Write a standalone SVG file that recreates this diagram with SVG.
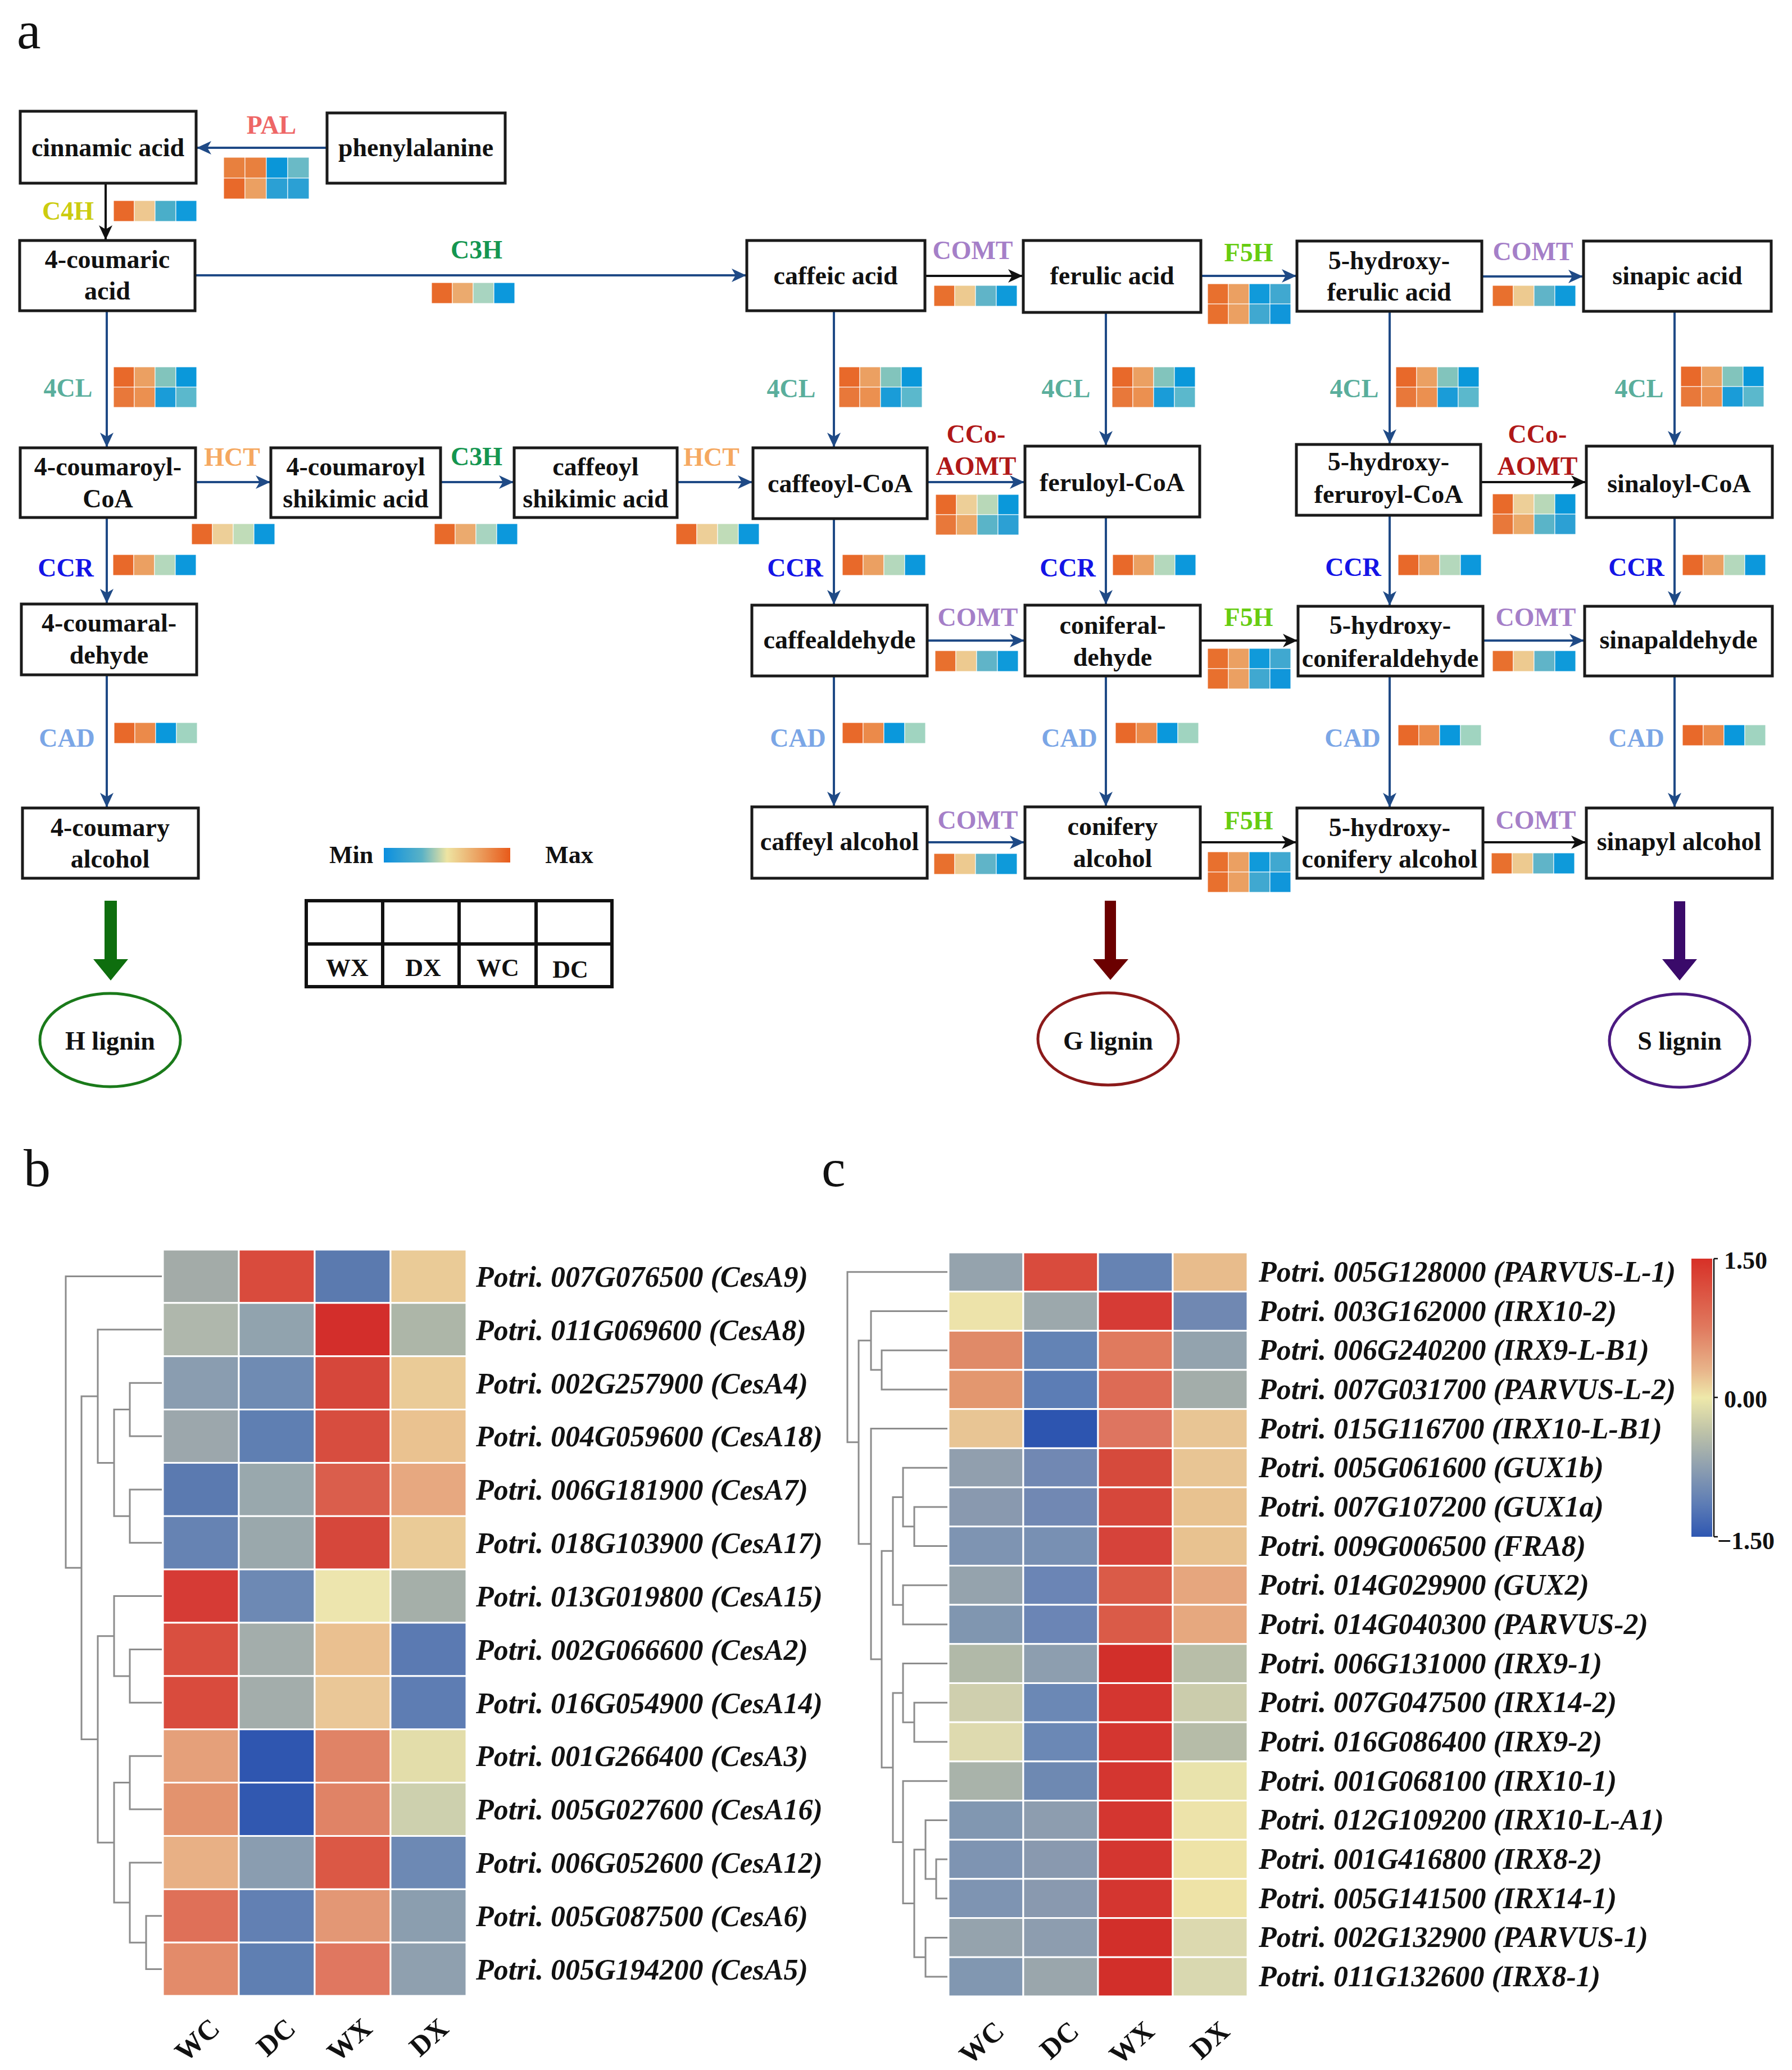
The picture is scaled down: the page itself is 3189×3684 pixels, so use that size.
<svg xmlns="http://www.w3.org/2000/svg" xmlns:xlink="http://www.w3.org/1999/xlink" width="3189" height="3684" viewBox="0 0 3189 3684">
<style>
.box{fill:#fff;stroke:#1a1a1a;stroke-width:5}
.nt{font-family:"Liberation Serif","Times New Roman",serif;font-weight:bold;font-size:46px;text-anchor:middle;fill:#111}
.en{font-family:"Liberation Serif","Times New Roman",serif;font-weight:bold;font-size:46px;text-anchor:middle}
.ln{stroke:#1F4A86;stroke-width:4;fill:none}
.lk{stroke:#111;stroke-width:4;fill:none}
.dg{stroke:#8C8C8C;stroke-width:3;fill:none}
.gl{font-family:"Liberation Serif","Times New Roman",serif;font-weight:bold;font-style:italic;font-size:52px;fill:#111}
.cl{font-family:"Liberation Serif","Times New Roman",serif;font-weight:bold;font-size:50px;fill:#111;text-anchor:end}
.pl{font-family:"Liberation Serif","Times New Roman",serif;font-size:96px;fill:#111}
.hc rect{stroke:#fff;stroke-width:1}
.hm rect{stroke:#fff;stroke-width:3}
.lg{font-family:"Liberation Serif","Times New Roman",serif;font-weight:bold;font-size:44px;fill:#111;text-anchor:middle}
.comt{fill:#A57FC8}.f5h{fill:#66CC11}.c4l{fill:#5AAE9C}.ccr{fill:#1414E6}.cad{fill:#7BA6E6}.hct{fill:#F5A860}.c3h{fill:#149650}.cco{fill:#B01818}
</style>
<defs>
<marker id="ab" markerUnits="userSpaceOnUse" markerWidth="26" markerHeight="24" refX="26" refY="12" orient="auto"><path d="M0,0 L26,12 L0,24 L7,12 z" fill="#1F4A86"/></marker>
<marker id="ak" markerUnits="userSpaceOnUse" markerWidth="26" markerHeight="24" refX="26" refY="12" orient="auto"><path d="M0,0 L26,12 L0,24 L7,12 z" fill="#111"/></marker>
<linearGradient id="mm" x1="0" y1="0" x2="1" y2="0"><stop offset="0" stop-color="#0A8FE0"/><stop offset="0.3" stop-color="#5AB2C6"/><stop offset="0.5" stop-color="#EEE4A2"/><stop offset="0.75" stop-color="#EBA060"/><stop offset="1" stop-color="#E85A1A"/></linearGradient>
<linearGradient id="cb" x1="0" y1="0" x2="0" y2="1"><stop offset="0" stop-color="#D73027"/><stop offset="0.25" stop-color="#E07A5F"/><stop offset="0.4" stop-color="#E8B48A"/><stop offset="0.5" stop-color="#EEE8AA"/><stop offset="0.62" stop-color="#BFC3A8"/><stop offset="0.75" stop-color="#8E9FB0"/><stop offset="0.88" stop-color="#5E7DB5"/><stop offset="1" stop-color="#2F57B2"/></linearGradient>
<g id="hmC4H" class="hc"><rect x="0" y="0" width="37" height="37" fill="#E8692A"/><rect x="37" y="0" width="37" height="37" fill="#EEC890"/><rect x="74" y="0" width="37" height="37" fill="#4AAEC9"/><rect x="111" y="0" width="37" height="37" fill="#109BDB"/></g>
<g id="hmC3H" class="hc"><rect x="0" y="0" width="37" height="37" fill="#E86A2A"/><rect x="37" y="0" width="37" height="37" fill="#EBAA6E"/><rect x="74" y="0" width="37" height="37" fill="#A8D4C0"/><rect x="111" y="0" width="37" height="37" fill="#0C98DC"/></g>
<g id="hmCOMT" class="hc"><rect x="0" y="0" width="37" height="37" fill="#E8702E"/><rect x="37" y="0" width="37" height="37" fill="#EDCA90"/><rect x="74" y="0" width="37" height="37" fill="#60B4C8"/><rect x="111" y="0" width="37" height="37" fill="#0E9ADA"/></g>
<g id="hmHCT" class="hc"><rect x="0" y="0" width="37" height="37" fill="#E8692A"/><rect x="37" y="0" width="37" height="37" fill="#EDCF98"/><rect x="74" y="0" width="37" height="37" fill="#C0DCB8"/><rect x="111" y="0" width="37" height="37" fill="#0C98DC"/></g>
<g id="hmCCR" class="hc"><rect x="0" y="0" width="37" height="37" fill="#E8692A"/><rect x="37" y="0" width="37" height="37" fill="#EBA062"/><rect x="74" y="0" width="37" height="37" fill="#B4D8BC"/><rect x="111" y="0" width="37" height="37" fill="#0C98DC"/></g>
<g id="hmCAD" class="hc"><rect x="0" y="0" width="37" height="37" fill="#E8692A"/><rect x="37" y="0" width="37" height="37" fill="#EB8A4A"/><rect x="74" y="0" width="37" height="37" fill="#0A98DC"/><rect x="111" y="0" width="37" height="37" fill="#A0D4C0"/></g>
<g id="hmPAL" class="hc"><rect x="0" y="0" width="38" height="37" fill="#E8803E"/><rect x="38" y="0" width="38" height="37" fill="#E8803E"/><rect x="76" y="0" width="38" height="37" fill="#0A96D8"/><rect x="114" y="0" width="38" height="37" fill="#6ABAC6"/><rect x="0" y="37" width="38" height="37" fill="#E8692A"/><rect x="38" y="37" width="38" height="37" fill="#EBA062"/><rect x="76" y="37" width="38" height="37" fill="#2BA0D4"/><rect x="114" y="37" width="38" height="37" fill="#2BA0D4"/></g>
<g id="hm4CL" class="hc"><rect x="0" y="0" width="37" height="36" fill="#E8692A"/><rect x="37" y="0" width="37" height="36" fill="#EBA062"/><rect x="74" y="0" width="37" height="36" fill="#82C4BC"/><rect x="111" y="0" width="37" height="36" fill="#0A98DA"/><rect x="0" y="36" width="37" height="36" fill="#E8783A"/><rect x="37" y="36" width="37" height="36" fill="#EB9050"/><rect x="74" y="36" width="37" height="36" fill="#1A9CD8"/><rect x="111" y="36" width="37" height="36" fill="#5BB8CC"/></g>
<g id="hmF5H" class="hc"><rect x="0" y="0" width="37" height="36" fill="#E8702E"/><rect x="37" y="0" width="37" height="36" fill="#EBA062"/><rect x="74" y="0" width="37" height="36" fill="#109ADA"/><rect x="111" y="0" width="37" height="36" fill="#40A8D0"/><rect x="0" y="36" width="37" height="36" fill="#E8702E"/><rect x="37" y="36" width="37" height="36" fill="#EBA062"/><rect x="74" y="36" width="37" height="36" fill="#40A8D0"/><rect x="111" y="36" width="37" height="36" fill="#1096DA"/></g>
<g id="hmCCO" class="hc"><rect x="0" y="0" width="37" height="36" fill="#E86A2A"/><rect x="37" y="0" width="37" height="36" fill="#EDCF98"/><rect x="74" y="0" width="37" height="36" fill="#B8D8B8"/><rect x="111" y="0" width="37" height="36" fill="#0A98DA"/><rect x="0" y="36" width="37" height="36" fill="#E8783A"/><rect x="37" y="36" width="37" height="36" fill="#EBA868"/><rect x="74" y="36" width="37" height="36" fill="#5AB4C8"/><rect x="111" y="36" width="37" height="36" fill="#2CA0D4"/></g>
</defs>
<rect width="3189" height="3684" fill="#fff"/>

<text class="pl" x="30" y="86">a</text>
<text class="pl" x="42" y="2111">b</text>
<text class="pl" x="1462" y="2111">c</text>

<!-- connectors -->
<g id="connectors">
<line class="ln" x1="582" y1="263" x2="350" y2="263" marker-end="url(#ab)"/>
<line class="lk" x1="188" y1="326" x2="188" y2="427" marker-end="url(#ak)"/>
<line class="ln" x1="347" y1="490" x2="1328" y2="490" marker-end="url(#ab)"/>
<line class="lk" x1="1646" y1="491" x2="1820" y2="491" marker-end="url(#ak)"/>
<line class="ln" x1="2137" y1="491" x2="2307" y2="491" marker-end="url(#ab)"/>
<line class="ln" x1="2637" y1="492" x2="2817" y2="492" marker-end="url(#ab)"/>
<line class="ln" x1="190" y1="553" x2="190" y2="796" marker-end="url(#ab)"/>
<line class="ln" x1="1484" y1="553" x2="1484" y2="796" marker-end="url(#ab)"/>
<line class="ln" x1="1968" y1="556" x2="1968" y2="793" marker-end="url(#ab)"/>
<line class="ln" x1="2473" y1="554" x2="2473" y2="790" marker-end="url(#ab)"/>
<line class="ln" x1="2980" y1="554" x2="2980" y2="793" marker-end="url(#ab)"/>
<line class="ln" x1="348" y1="858" x2="481" y2="858" marker-end="url(#ab)"/>
<line class="ln" x1="784" y1="858" x2="914" y2="858" marker-end="url(#ab)"/>
<line class="ln" x1="1205" y1="858" x2="1339" y2="858" marker-end="url(#ab)"/>
<line class="ln" x1="1650" y1="858" x2="1823" y2="858" marker-end="url(#ab)"/>
<line class="lk" x1="2635" y1="858" x2="2822" y2="858" marker-end="url(#ak)"/>
<line class="ln" x1="190" y1="921" x2="190" y2="1074" marker-end="url(#ab)"/>
<line class="ln" x1="1484" y1="923" x2="1484" y2="1076" marker-end="url(#ab)"/>
<line class="ln" x1="1968" y1="920" x2="1968" y2="1076" marker-end="url(#ab)"/>
<line class="ln" x1="2473" y1="917" x2="2473" y2="1078" marker-end="url(#ab)"/>
<line class="ln" x1="2980" y1="921" x2="2980" y2="1078" marker-end="url(#ab)"/>
<line class="ln" x1="1650" y1="1140" x2="1823" y2="1140" marker-end="url(#ab)"/>
<line class="lk" x1="2136" y1="1140" x2="2309" y2="1140" marker-end="url(#ak)"/>
<line class="ln" x1="2639" y1="1140" x2="2819" y2="1140" marker-end="url(#ab)"/>
<line class="ln" x1="190" y1="1201" x2="190" y2="1437" marker-end="url(#ab)"/>
<line class="ln" x1="1484" y1="1203" x2="1484" y2="1435" marker-end="url(#ab)"/>
<line class="ln" x1="1968" y1="1203" x2="1968" y2="1435" marker-end="url(#ab)"/>
<line class="ln" x1="2473" y1="1203" x2="2473" y2="1437" marker-end="url(#ab)"/>
<line class="ln" x1="2980" y1="1203" x2="2980" y2="1437" marker-end="url(#ab)"/>
<line class="ln" x1="1650" y1="1499" x2="1823" y2="1499" marker-end="url(#ab)"/>
<line class="lk" x1="2136" y1="1499" x2="2307" y2="1499" marker-end="url(#ak)"/>
<line class="lk" x1="2639" y1="1499" x2="2822" y2="1499" marker-end="url(#ak)"/>
<path fill="#0E6E0E" d="M186,1603 H208 V1707 H228 L197,1745 L166,1707 H186 Z"/>
<path fill="#6B0000" d="M1966,1603 H1986 V1707 H2008 L1976,1744 L1945,1707 H1966 Z"/>
<path fill="#3A0A6A" d="M2979,1604 H2999 V1707 H3020 L2989,1745 L2958,1707 H2979 Z"/>
</g>

<!-- enzyme labels -->
<g id="enzymes">
<text class="en" x="483" y="238" fill="#EE6666">PAL</text>
<text class="en" x="121" y="391" fill="#CCCC10">C4H</text>
<text class="en c3h" x="848" y="460">C3H</text>
<text class="en c3h" x="848" y="828">C3H</text>
<text class="en hct" x="413" y="829">HCT</text>
<text class="en hct" x="1266" y="829">HCT</text>
<text class="en comt" x="1731" y="461">COMT</text>
<text class="en comt" x="2728" y="463">COMT</text>
<text class="en comt" x="1740" y="1114">COMT</text>
<text class="en comt" x="2733" y="1114">COMT</text>
<text class="en comt" x="1740" y="1475">COMT</text>
<text class="en comt" x="2733" y="1475">COMT</text>
<text class="en f5h" x="2222" y="465">F5H</text>
<text class="en f5h" x="2222" y="1114">F5H</text>
<text class="en f5h" x="2222" y="1476">F5H</text>
<text class="en c4l" x="121" y="706">4CL</text>
<text class="en c4l" x="1408" y="707">4CL</text>
<text class="en c4l" x="1897" y="707">4CL</text>
<text class="en c4l" x="2410" y="707">4CL</text>
<text class="en c4l" x="2917" y="707">4CL</text>
<text class="en cco" x="1737" y="788">CCo-</text>
<text class="en cco" x="1737" y="845">AOMT</text>
<text class="en cco" x="2736" y="788">CCo-</text>
<text class="en cco" x="2736" y="845">AOMT</text>
<text class="en ccr" x="117" y="1026">CCR</text>
<text class="en ccr" x="1415" y="1026">CCR</text>
<text class="en ccr" x="1900" y="1026">CCR</text>
<text class="en ccr" x="2408" y="1025">CCR</text>
<text class="en ccr" x="2912" y="1025">CCR</text>
<text class="en cad" x="119" y="1329">CAD</text>
<text class="en cad" x="1420" y="1329">CAD</text>
<text class="en cad" x="1903" y="1329">CAD</text>
<text class="en cad" x="2407" y="1329">CAD</text>
<text class="en cad" x="2912" y="1329">CAD</text>
</g>

<!-- expression blocks -->
<g id="expression">
<use xlink:href="#hmPAL" href="#hmPAL" x="398" y="280"/>
<use xlink:href="#hmC4H" href="#hmC4H" x="202" y="357"/>
<use xlink:href="#hmC3H" href="#hmC3H" x="768" y="503"/>
<use xlink:href="#hm4CL" href="#hm4CL" x="202" y="653"/>
<use xlink:href="#hm4CL" href="#hm4CL" x="1493" y="653"/>
<use xlink:href="#hm4CL" href="#hm4CL" x="1979" y="653"/>
<use xlink:href="#hm4CL" href="#hm4CL" x="2484" y="653"/>
<use xlink:href="#hm4CL" href="#hm4CL" x="2991" y="652"/>
<use xlink:href="#hmCOMT" href="#hmCOMT" x="1662" y="508"/>
<use xlink:href="#hmCOMT" href="#hmCOMT" x="2656" y="508"/>
<use xlink:href="#hmF5H" href="#hmF5H" x="2149" y="505"/>
<use xlink:href="#hmF5H" href="#hmF5H" x="2149" y="1154"/>
<use xlink:href="#hmF5H" href="#hmF5H" x="2149" y="1516"/>
<use xlink:href="#hmHCT" href="#hmHCT" x="341" y="932"/>
<use xlink:href="#hmC3H" href="#hmC3H" x="773" y="932"/>
<use xlink:href="#hmHCT" href="#hmHCT" x="1203" y="932"/>
<use xlink:href="#hmCCO" href="#hmCCO" x="1665" y="880"/>
<use xlink:href="#hmCCO" href="#hmCCO" x="2656" y="879"/>
<use xlink:href="#hmCCR" href="#hmCCR" x="201" y="987"/>
<use xlink:href="#hmCCR" href="#hmCCR" x="1499" y="987"/>
<use xlink:href="#hmCCR" href="#hmCCR" x="1980" y="987"/>
<use xlink:href="#hmCCR" href="#hmCCR" x="2488" y="987"/>
<use xlink:href="#hmCCR" href="#hmCCR" x="2994" y="987"/>
<use xlink:href="#hmCOMT" href="#hmCOMT" x="1664" y="1158"/>
<use xlink:href="#hmCOMT" href="#hmCOMT" x="2656" y="1158"/>
<use xlink:href="#hmCAD" href="#hmCAD" x="203" y="1286"/>
<use xlink:href="#hmCAD" href="#hmCAD" x="1499" y="1286"/>
<use xlink:href="#hmCAD" href="#hmCAD" x="1985" y="1286"/>
<use xlink:href="#hmCAD" href="#hmCAD" x="2488" y="1290"/>
<use xlink:href="#hmCAD" href="#hmCAD" x="2994" y="1290"/>
<use xlink:href="#hmCOMT" href="#hmCOMT" x="1662" y="1519"/>
<use xlink:href="#hmCOMT" href="#hmCOMT" x="2654" y="1518"/>
</g>

<!-- nodes -->
<g id="n-cinnamic"><rect class="box" x="36" y="198" width="313" height="128"/><text class="nt" x="192" y="278">cinnamic acid</text></g>
<g id="n-phenylalanine"><rect class="box" x="582" y="201" width="317" height="125"/><text class="nt" x="740" y="278">phenylalanine</text></g>
<g id="n-coumaric"><rect class="box" x="35" y="428" width="312" height="125"/><text class="nt" x="191" y="477">4-coumaric</text><text class="nt" x="191" y="533">acid</text></g>
<g id="n-caffeic"><rect class="box" x="1329" y="428" width="317" height="125"/><text class="nt" x="1487" y="506">caffeic acid</text></g>
<g id="n-ferulic"><rect class="box" x="1821" y="428" width="316" height="128"/><text class="nt" x="1979" y="506">ferulic acid</text></g>
<g id="n-5hferulic"><rect class="box" x="2308" y="429" width="329" height="125"/><text class="nt" x="2472" y="479">5-hydroxy-</text><text class="nt" x="2472" y="535">ferulic acid</text></g>
<g id="n-sinapic"><rect class="box" x="2818" y="429" width="334" height="125"/><text class="nt" x="2985" y="506">sinapic acid</text></g>
<g id="n-coumaroylcoa"><rect class="box" x="36" y="797" width="312" height="124"/><text class="nt" x="192" y="846">4-coumaroyl-</text><text class="nt" x="192" y="903">CoA</text></g>
<g id="n-coumaroylshik"><rect class="box" x="482" y="797" width="302" height="124"/><text class="nt" x="633" y="846">4-coumaroyl</text><text class="nt" x="633" y="903">shikimic acid</text></g>
<g id="n-caffeoylshik"><rect class="box" x="915" y="797" width="290" height="124"/><text class="nt" x="1060" y="846">caffeoyl</text><text class="nt" x="1060" y="903">shikimic acid</text></g>
<g id="n-caffeoylcoa"><rect class="box" x="1340" y="797" width="310" height="126"/><text class="nt" x="1495" y="876">caffeoyl-CoA</text></g>
<g id="n-feruloylcoa"><rect class="box" x="1824" y="794" width="311" height="126"/><text class="nt" x="1979" y="874">feruloyl-CoA</text></g>
<g id="n-5hferuroylcoa"><rect class="box" x="2307" y="791" width="328" height="126"/><text class="nt" x="2471" y="837">5-hydroxy-</text><text class="nt" x="2471" y="895">feruroyl-CoA</text></g>
<g id="n-sinaloylcoa"><rect class="box" x="2823" y="794" width="331" height="127"/><text class="nt" x="2988" y="876">sinaloyl-CoA</text></g>
<g id="n-coumaraldehyde"><rect class="box" x="38" y="1075" width="312" height="126"/><text class="nt" x="194" y="1124">4-coumaral-</text><text class="nt" x="194" y="1181">dehyde</text></g>
<g id="n-caffealdehyde"><rect class="box" x="1338" y="1077" width="312" height="126"/><text class="nt" x="1494" y="1154">caffealdehyde</text></g>
<g id="n-coniferaldehyde"><rect class="box" x="1824" y="1077" width="312" height="126"/><text class="nt" x="1980" y="1128">coniferal-</text><text class="nt" x="1980" y="1185">dehyde</text></g>
<g id="n-5hconiferaldehyde"><rect class="box" x="2310" y="1079" width="329" height="124"/><text class="nt" x="2474" y="1128">5-hydroxy-</text><text class="nt" x="2474" y="1187">coniferaldehyde</text></g>
<g id="n-sinapaldehyde"><rect class="box" x="2820" y="1079" width="334" height="124"/><text class="nt" x="2987" y="1154">sinapaldehyde</text></g>
<g id="n-coumaryalcohol"><rect class="box" x="40" y="1438" width="313" height="125"/><text class="nt" x="196" y="1488">4-coumary</text><text class="nt" x="196" y="1544">alcohol</text></g>
<g id="n-caffeylalcohol"><rect class="box" x="1338" y="1436" width="312" height="127"/><text class="nt" x="1494" y="1513">caffeyl alcohol</text></g>
<g id="n-coniferyalcohol"><rect class="box" x="1824" y="1436" width="312" height="127"/><text class="nt" x="1980" y="1486">conifery</text><text class="nt" x="1980" y="1543">alcohol</text></g>
<g id="n-5hconiferyalcohol"><rect class="box" x="2308" y="1438" width="331" height="125"/><text class="nt" x="2473" y="1488">5-hydroxy-</text><text class="nt" x="2473" y="1544">conifery alcohol</text></g>
<g id="n-sinapylalcohol"><rect class="box" x="2823" y="1438" width="331" height="125"/><text class="nt" x="2988" y="1513">sinapyl alcohol</text></g>
<g id="n-hlignin"><ellipse cx="196" cy="1851" rx="125" ry="83" fill="#fff" stroke="#1A7A1A" stroke-width="5"/><text class="nt" x="196" y="1868">H lignin</text></g>
<g id="n-glignin"><ellipse cx="1972" cy="1849" rx="125" ry="82" fill="#fff" stroke="#8B1A1A" stroke-width="5"/><text class="nt" x="1972" y="1868">G lignin</text></g>
<g id="n-slignin"><ellipse cx="2989" cy="1852" rx="125" ry="83" fill="#fff" stroke="#4B1A80" stroke-width="5"/><text class="nt" x="2989" y="1868">S lignin</text></g>

<!-- legend -->
<g id="legend">
<text class="lg" x="625" y="1536">Min</text>
<rect x="683" y="1509" width="225" height="26" fill="url(#mm)"/>
<text class="lg" x="1013" y="1536">Max</text>
<rect x="545" y="1603" width="544" height="153" fill="none" stroke="#111" stroke-width="6"/>
<line x1="545" y1="1680" x2="1089" y2="1680" stroke="#111" stroke-width="6"/>
<line x1="681" y1="1603" x2="681" y2="1756" stroke="#111" stroke-width="6"/>
<line x1="817" y1="1603" x2="817" y2="1756" stroke="#111" stroke-width="6"/>
<line x1="954" y1="1603" x2="954" y2="1756" stroke="#111" stroke-width="6"/>
<text class="lg" x="618" y="1737">WX</text>
<text class="lg" x="753" y="1737">DX</text>
<text class="lg" x="886" y="1737">WC</text>
<text class="lg" x="1015" y="1740">DC</text>
</g>

<!-- panel b -->
<g id="b-dendrogram">
<path class="dg" d="M288 2271.4 H117 V2790.2 H145 M174 2484.9 H145 V3095.6 H174 M288 2366.3 H174 V2603.5 H203 M231 2508.6 H203 V2698.3 H231 M288 2461.2 H231 V2556 H288 M288 2650.9 H231 V2745.7 H288 M203 2911.8 H174 V3279.3 H203 M288 2840.6 H203 V2982.9 H231 M288 2935.5 H231 V3030.3 H288 M231 3172.6 H203 V3386 H231 M288 3125.2 H231 V3220 H288 M288 3314.9 H231 V3457.2 H260 M288 3409.8 H260 V3504.6 H288"/>
</g>
<g id="b-heatmap" class="hm">
<rect x="290" y="2224" width="135" height="94.86" fill="#A3ABA8"/><rect x="425" y="2224" width="135" height="94.86" fill="#D94B3D"/><rect x="560" y="2224" width="135" height="94.86" fill="#5B7AAF"/><rect x="695" y="2224" width="135" height="94.86" fill="#EACB97"/>
<rect x="290" y="2318.86" width="135" height="94.86" fill="#AFB7AC"/><rect x="425" y="2318.86" width="135" height="94.86" fill="#91A3AE"/><rect x="560" y="2318.86" width="135" height="94.86" fill="#D32E2B"/><rect x="695" y="2318.86" width="135" height="94.86" fill="#ADB6A8"/>
<rect x="290" y="2413.72" width="135" height="94.86" fill="#8A9DB0"/><rect x="425" y="2413.72" width="135" height="94.86" fill="#6F8BB3"/><rect x="560" y="2413.72" width="135" height="94.86" fill="#D6473B"/><rect x="695" y="2413.72" width="135" height="94.86" fill="#EACB97"/>
<rect x="290" y="2508.58" width="135" height="94.86" fill="#9CA7AC"/><rect x="425" y="2508.58" width="135" height="94.86" fill="#5F7FB2"/><rect x="560" y="2508.58" width="135" height="94.86" fill="#D74D3F"/><rect x="695" y="2508.58" width="135" height="94.86" fill="#EAC290"/>
<rect x="290" y="2603.44" width="135" height="94.86" fill="#5B7AB0"/><rect x="425" y="2603.44" width="135" height="94.86" fill="#99A8AD"/><rect x="560" y="2603.44" width="135" height="94.86" fill="#DA5E4C"/><rect x="695" y="2603.44" width="135" height="94.86" fill="#E7A880"/>
<rect x="290" y="2698.3" width="135" height="94.86" fill="#6683B3"/><rect x="425" y="2698.3" width="135" height="94.86" fill="#9AA8AC"/><rect x="560" y="2698.3" width="135" height="94.86" fill="#D6473B"/><rect x="695" y="2698.3" width="135" height="94.86" fill="#EACB97"/>
<rect x="290" y="2793.16" width="135" height="94.86" fill="#D63B35"/><rect x="425" y="2793.16" width="135" height="94.86" fill="#6D89B4"/><rect x="560" y="2793.16" width="135" height="94.86" fill="#EDE5AE"/><rect x="695" y="2793.16" width="135" height="94.86" fill="#A5AFA9"/>
<rect x="290" y="2888.02" width="135" height="94.86" fill="#D94F40"/><rect x="425" y="2888.02" width="135" height="94.86" fill="#A3ADAB"/><rect x="560" y="2888.02" width="135" height="94.86" fill="#EAC090"/><rect x="695" y="2888.02" width="135" height="94.86" fill="#5B7AB2"/>
<rect x="290" y="2982.88" width="135" height="94.86" fill="#D94B3D"/><rect x="425" y="2982.88" width="135" height="94.86" fill="#A3ADAB"/><rect x="560" y="2982.88" width="135" height="94.86" fill="#EAC797"/><rect x="695" y="2982.88" width="135" height="94.86" fill="#5E7DB3"/>
<rect x="290" y="3077.74" width="135" height="94.86" fill="#E5A07A"/><rect x="425" y="3077.74" width="135" height="94.86" fill="#2F56B0"/><rect x="560" y="3077.74" width="135" height="94.86" fill="#E08366"/><rect x="695" y="3077.74" width="135" height="94.86" fill="#E3DDAA"/>
<rect x="290" y="3172.6" width="135" height="94.86" fill="#E3936E"/><rect x="425" y="3172.6" width="135" height="94.86" fill="#3158B0"/><rect x="560" y="3172.6" width="135" height="94.86" fill="#E08366"/><rect x="695" y="3172.6" width="135" height="94.86" fill="#CDD0AE"/>
<rect x="290" y="3267.46" width="135" height="94.86" fill="#E8B085"/><rect x="425" y="3267.46" width="135" height="94.86" fill="#8A9DB0"/><rect x="560" y="3267.46" width="135" height="94.86" fill="#DB5845"/><rect x="695" y="3267.46" width="135" height="94.86" fill="#6D89B4"/>
<rect x="290" y="3362.32" width="135" height="94.86" fill="#DF7058"/><rect x="425" y="3362.32" width="135" height="94.86" fill="#6280B3"/><rect x="560" y="3362.32" width="135" height="94.86" fill="#E39775"/><rect x="695" y="3362.32" width="135" height="94.86" fill="#8B9EAF"/>
<rect x="290" y="3457.18" width="135" height="94.86" fill="#E38B6A"/><rect x="425" y="3457.18" width="135" height="94.86" fill="#5F7FB2"/><rect x="560" y="3457.18" width="135" height="94.86" fill="#E07760"/><rect x="695" y="3457.18" width="135" height="94.86" fill="#8FA0AF"/>
</g>
<g id="b-labels">
<text class="gl" x="847" y="2290">Potri. 007G076500 (CesA9)</text>
<text class="gl" x="847" y="2385">Potri. 011G069600 (CesA8)</text>
<text class="gl" x="847" y="2480">Potri. 002G257900 (CesA4)</text>
<text class="gl" x="847" y="2574">Potri. 004G059600 (CesA18)</text>
<text class="gl" x="847" y="2669">Potri. 006G181900 (CesA7)</text>
<text class="gl" x="847" y="2764">Potri. 018G103900 (CesA17)</text>
<text class="gl" x="847" y="2859">Potri. 013G019800 (CesA15)</text>
<text class="gl" x="847" y="2954">Potri. 002G066600 (CesA2)</text>
<text class="gl" x="847" y="3049">Potri. 016G054900 (CesA14)</text>
<text class="gl" x="847" y="3143">Potri. 001G266400 (CesA3)</text>
<text class="gl" x="847" y="3238">Potri. 005G027600 (CesA16)</text>
<text class="gl" x="847" y="3333">Potri. 006G052600 (CesA12)</text>
<text class="gl" x="847" y="3428">Potri. 005G087500 (CesA6)</text>
<text class="gl" x="847" y="3523">Potri. 005G194200 (CesA5)</text>
<text class="cl" transform="translate(394,3614) rotate(-42)">WC</text>
<text class="cl" transform="translate(529,3614) rotate(-42)">DC</text>
<text class="cl" transform="translate(665,3614) rotate(-42)">WX</text>
<text class="cl" transform="translate(801,3614) rotate(-42)">DX</text>
</g>

<!-- panel c -->
<g id="c-dendrogram">
<path class="dg" d="M1686 2263.8 H1508 V2566.8 H1528 M1550 2385.8 H1528 V2747.8 H1550 M1686 2333.5 H1550 V2438.05 H1569 M1686 2403.2 H1569 V2472.9 H1686 M1686 2542.6 H1550 V2953 H1569 M1589 2760.3 H1569 V3145.75 H1589 M1607 2664.5 H1589 V2856.15 H1607 M1686 2612.2 H1607 V2716.75 H1627 M1686 2681.9 H1627 V2751.6 H1686 M1686 2821.3 H1607 V2891 H1686 M1607 3012.9 H1589 V3278.6 H1607 M1686 2960.6 H1607 V3065.15 H1627 M1686 3030.3 H1627 V3100 H1686 M1686 3169.7 H1607 V3387.45 H1627 M1647 3291.65 H1627 V3483.25 H1647 M1686 3239.4 H1647 V3343.9 H1666 M1686 3309.1 H1666 V3378.7 H1686 M1686 3448.4 H1647 V3518.1 H1686"/>
</g>
<g id="c-heatmap" class="hm">
<rect x="1688" y="2229" width="133" height="69.68" fill="#95A3AD"/><rect x="1821" y="2229" width="133" height="69.68" fill="#D94B3D"/><rect x="1954" y="2229" width="133" height="69.68" fill="#6683B3"/><rect x="2087" y="2229" width="133" height="69.68" fill="#E8BC8C"/>
<rect x="1688" y="2298.68" width="133" height="69.68" fill="#EDE3AA"/><rect x="1821" y="2298.68" width="133" height="69.68" fill="#9CA8AC"/><rect x="1954" y="2298.68" width="133" height="69.68" fill="#D63B35"/><rect x="2087" y="2298.68" width="133" height="69.68" fill="#7088B2"/>
<rect x="1688" y="2368.36" width="133" height="69.68" fill="#E08A68"/><rect x="1821" y="2368.36" width="133" height="69.68" fill="#6383B5"/><rect x="1954" y="2368.36" width="133" height="69.68" fill="#E07A5E"/><rect x="2087" y="2368.36" width="133" height="69.68" fill="#93A3AE"/>
<rect x="1688" y="2438.04" width="133" height="69.68" fill="#E3976F"/><rect x="1821" y="2438.04" width="133" height="69.68" fill="#5C7DB5"/><rect x="1954" y="2438.04" width="133" height="69.68" fill="#DD6B55"/><rect x="2087" y="2438.04" width="133" height="69.68" fill="#A3ADAA"/>
<rect x="1688" y="2507.72" width="133" height="69.68" fill="#E8C594"/><rect x="1821" y="2507.72" width="133" height="69.68" fill="#2D55B0"/><rect x="1954" y="2507.72" width="133" height="69.68" fill="#DE7560"/><rect x="2087" y="2507.72" width="133" height="69.68" fill="#E8C594"/>
<rect x="1688" y="2577.4" width="133" height="69.68" fill="#919FAE"/><rect x="1821" y="2577.4" width="133" height="69.68" fill="#7188B3"/><rect x="1954" y="2577.4" width="133" height="69.68" fill="#D64A3C"/><rect x="2087" y="2577.4" width="133" height="69.68" fill="#E8C594"/>
<rect x="1688" y="2647.08" width="133" height="69.68" fill="#8999AF"/><rect x="1821" y="2647.08" width="133" height="69.68" fill="#7188B3"/><rect x="1954" y="2647.08" width="133" height="69.68" fill="#D6473B"/><rect x="2087" y="2647.08" width="133" height="69.68" fill="#E8C290"/>
<rect x="1688" y="2716.76" width="133" height="69.68" fill="#7E94B2"/><rect x="1821" y="2716.76" width="133" height="69.68" fill="#7890B3"/><rect x="1954" y="2716.76" width="133" height="69.68" fill="#D6433A"/><rect x="2087" y="2716.76" width="133" height="69.68" fill="#E8C290"/>
<rect x="1688" y="2786.44" width="133" height="69.68" fill="#95A3AD"/><rect x="1821" y="2786.44" width="133" height="69.68" fill="#6B85B5"/><rect x="1954" y="2786.44" width="133" height="69.68" fill="#DA5B48"/><rect x="2087" y="2786.44" width="133" height="69.68" fill="#E6A67E"/>
<rect x="1688" y="2856.12" width="133" height="69.68" fill="#8096B0"/><rect x="1821" y="2856.12" width="133" height="69.68" fill="#6B85B5"/><rect x="1954" y="2856.12" width="133" height="69.68" fill="#DA5B48"/><rect x="2087" y="2856.12" width="133" height="69.68" fill="#E6A87F"/>
<rect x="1688" y="2925.8" width="133" height="69.68" fill="#B1B9A8"/><rect x="1821" y="2925.8" width="133" height="69.68" fill="#8D9EAF"/><rect x="1954" y="2925.8" width="133" height="69.68" fill="#D22F2A"/><rect x="2087" y="2925.8" width="133" height="69.68" fill="#B8BEA8"/>
<rect x="1688" y="2995.48" width="133" height="69.68" fill="#CFCFAE"/><rect x="1821" y="2995.48" width="133" height="69.68" fill="#6B88B5"/><rect x="1954" y="2995.48" width="133" height="69.68" fill="#D43630"/><rect x="2087" y="2995.48" width="133" height="69.68" fill="#CBCCAC"/>
<rect x="1688" y="3065.16" width="133" height="69.68" fill="#DEDAAF"/><rect x="1821" y="3065.16" width="133" height="69.68" fill="#6B88B5"/><rect x="1954" y="3065.16" width="133" height="69.68" fill="#D43630"/><rect x="2087" y="3065.16" width="133" height="69.68" fill="#B6BCA8"/>
<rect x="1688" y="3134.84" width="133" height="69.68" fill="#A9B3AA"/><rect x="1821" y="3134.84" width="133" height="69.68" fill="#6E89B2"/><rect x="1954" y="3134.84" width="133" height="69.68" fill="#D43630"/><rect x="2087" y="3134.84" width="133" height="69.68" fill="#E9E3AC"/>
<rect x="1688" y="3204.52" width="133" height="69.68" fill="#8197B1"/><rect x="1821" y="3204.52" width="133" height="69.68" fill="#8D9DAF"/><rect x="1954" y="3204.52" width="133" height="69.68" fill="#D43630"/><rect x="2087" y="3204.52" width="133" height="69.68" fill="#EDE3AA"/>
<rect x="1688" y="3274.2" width="133" height="69.68" fill="#7E94B2"/><rect x="1821" y="3274.2" width="133" height="69.68" fill="#8999AF"/><rect x="1954" y="3274.2" width="133" height="69.68" fill="#D43630"/><rect x="2087" y="3274.2" width="133" height="69.68" fill="#EEE3A7"/>
<rect x="1688" y="3343.88" width="133" height="69.68" fill="#7E94B2"/><rect x="1821" y="3343.88" width="133" height="69.68" fill="#8999AF"/><rect x="1954" y="3343.88" width="133" height="69.68" fill="#D43630"/><rect x="2087" y="3343.88" width="133" height="69.68" fill="#EEE3A7"/>
<rect x="1688" y="3413.56" width="133" height="69.68" fill="#95A3AD"/><rect x="1821" y="3413.56" width="133" height="69.68" fill="#8D9DAF"/><rect x="1954" y="3413.56" width="133" height="69.68" fill="#D22F2A"/><rect x="2087" y="3413.56" width="133" height="69.68" fill="#DCD9AF"/>
<rect x="1688" y="3483.24" width="133" height="69.68" fill="#8197B1"/><rect x="1821" y="3483.24" width="133" height="69.68" fill="#9AA6AC"/><rect x="1954" y="3483.24" width="133" height="69.68" fill="#D22F2A"/><rect x="2087" y="3483.24" width="133" height="69.68" fill="#D9D8B0"/>
</g>
<g id="c-labels">
<text class="gl" x="2240" y="2281">Potri. 005G128000 (PARVUS-L-1)</text>
<text class="gl" x="2240" y="2351">Potri. 003G162000 (IRX10-2)</text>
<text class="gl" x="2240" y="2420">Potri. 006G240200 (IRX9-L-B1)</text>
<text class="gl" x="2240" y="2490">Potri. 007G031700 (PARVUS-L-2)</text>
<text class="gl" x="2240" y="2560">Potri. 015G116700 (IRX10-L-B1)</text>
<text class="gl" x="2240" y="2629">Potri. 005G061600 (GUX1b)</text>
<text class="gl" x="2240" y="2699">Potri. 007G107200 (GUX1a)</text>
<text class="gl" x="2240" y="2769">Potri. 009G006500 (FRA8)</text>
<text class="gl" x="2240" y="2838">Potri. 014G029900 (GUX2)</text>
<text class="gl" x="2240" y="2908">Potri. 014G040300 (PARVUS-2)</text>
<text class="gl" x="2240" y="2978">Potri. 006G131000 (IRX9-1)</text>
<text class="gl" x="2240" y="3047">Potri. 007G047500 (IRX14-2)</text>
<text class="gl" x="2240" y="3117">Potri. 016G086400 (IRX9-2)</text>
<text class="gl" x="2240" y="3187">Potri. 001G068100 (IRX10-1)</text>
<text class="gl" x="2240" y="3256">Potri. 012G109200 (IRX10-L-A1)</text>
<text class="gl" x="2240" y="3326">Potri. 001G416800 (IRX8-2)</text>
<text class="gl" x="2240" y="3396">Potri. 005G141500 (IRX14-1)</text>
<text class="gl" x="2240" y="3465">Potri. 002G132900 (PARVUS-1)</text>
<text class="gl" x="2240" y="3535">Potri. 011G132600 (IRX8-1)</text>
<text class="cl" transform="translate(1790,3619) rotate(-42)">WC</text>
<text class="cl" transform="translate(1923,3619) rotate(-42)">DC</text>
<text class="cl" transform="translate(2057,3619) rotate(-42)">WX</text>
<text class="cl" transform="translate(2191,3619) rotate(-42)">DX</text>
</g>
<g id="colorbar">
<rect x="3010" y="2240" width="37" height="495" fill="url(#cb)"/>
<path d="M3050 2240 V2735 M3050 2240 H3057 M3050 2487 H3057 M3050 2735 H3057" stroke="#111" stroke-width="2.5" fill="none"/>
<text class="lg" x="3068" y="2258" style="text-anchor:start">1.50</text>
<text class="lg" x="3068" y="2505" style="text-anchor:start">0.00</text>
<text class="lg" x="3056" y="2757" style="text-anchor:start">−1.50</text>
</g>
</svg>
